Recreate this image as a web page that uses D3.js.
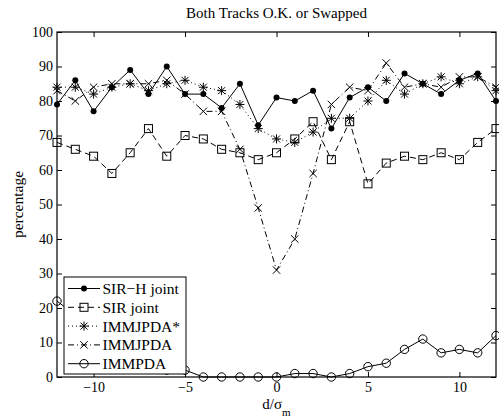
<!DOCTYPE html>
<html>
<head>
<meta charset="utf-8">
<script src="https://cdn.jsdelivr.net/npm/d3@7"></script>
<style>
  body { margin: 0; background: #fff; }
  svg, svg text { font-family: "Liberation Serif", "Times New Roman", serif; }
  .tick text { font-size: 14px; }
</style>
</head>
<body>
<div id="chart"></div>
<script>
"use strict";

// d/sigma_m positions
let xValues = d3.range(-12, 13);

let sirHJoint = [79, 86, 77, 84, 89, 82, 90, 82, 82, 78, 85, 73, 81, 80, 83, 72, 81, 84, 80, 88, 85, 82, 86, 88, 80];
let sirJoint = [68, 66, 64, 59, 65, 72, 64, 70, 69, 66, 65, 63, 65, 69, 74, 63, 74, 56, 62, 64, 63, 65, 63, 68, 72];
let immjpdaStar = [84, 84, 82, 84, 85, 83, 85, 86, 84, 83, 79, 72, 69, 68, 71, 75, 75, 80, 86, 82, 85, 87, 85, 87, 83];
let immjpda = [83, 80, 84, 85, 85, 85, 86, 82, 77, 77, 66, 49, 31, 40, 59, 79, 84, 83, 91, 84, 85, 84, 87, 87, 84];
let immpda = [22, 18, 12, 8, 5, 3, 2, 2, 0, 0, 0, 0, 0, 1, 1, 0, 1, 3, 4, 8, 11, 7, 8, 7, 12];

let xTicks = [-10, -5, 0, 5, 10];
let yTicks = [0, 10, 20, 30, 40, 50, 60, 70, 80, 90, 100];

let series = [
  { name: 'SIR\u2212H joint', values: sirHJoint, dash: null, marker: 'dot' },
  { name: 'SIR joint', values: sirJoint, dash: '6,4', marker: 'square' },
  { name: 'IMMJPDA*', values: immjpdaStar, dash: '1,3', marker: 'star' },
  { name: 'IMMJPDA', values: immjpda, dash: '6,3,1,3', marker: 'cross' },
  { name: 'IMMPDA', values: immpda, dash: null, marker: 'circle' }
];

let width = 499;
let height = 419;
let margin = { top: 32, right: 3, bottom: 42, left: 57 };
let innerW = width - margin.left - margin.right;
let innerH = height - margin.top - margin.bottom;

let svg = d3.select('#chart')
  .append('svg')
  .attr('width', width)
  .attr('height', height);

let g = svg.append('g')
  .attr('transform', 'translate(' + margin.left + ',' + margin.top + ')');

let x = d3.scaleLinear().domain([-12, 12]).range([0, innerW]);
let y = d3.scaleLinear().domain([0, 100]).range([innerH, 0]);

let fmt = d => d < 0 ? '\u2212' + Math.abs(d) : String(d);

// axes, ticks pointing inward
let styleAxis = sel => {
  sel.attr('font-family', null).attr('font-size', null);
  sel.select('.domain').remove();
  sel.selectAll('.tick line').attr('stroke', '#000');
  sel.selectAll('.tick text').attr('fill', '#000');
};

g.append('g')
  .attr('transform', 'translate(0,' + innerH + ')')
  .call(d3.axisBottom(x).tickValues(xTicks).tickFormat(fmt).tickSizeInner(-5).tickPadding(5))
  .call(styleAxis);

g.append('g')
  .call(d3.axisTop(x).tickValues(xTicks).tickFormat('').tickSizeInner(-5))
  .call(styleAxis);

g.append('g')
  .call(d3.axisLeft(y).tickValues(yTicks).tickSizeInner(-5).tickPadding(4))
  .call(styleAxis);

g.append('g')
  .attr('transform', 'translate(' + innerW + ',0)')
  .call(d3.axisRight(y).tickValues(yTicks).tickFormat('').tickSizeInner(-5))
  .call(styleAxis);

let line = d3.line()
  .x((d, i) => x(xValues[i]))
  .y(d => y(d));

let drawMarker = (sel, type) => {
  if (type === 'dot') {
    sel.append('circle').attr('r', 3).attr('fill', '#000');
  } else if (type === 'circle') {
    sel.append('circle').attr('r', 4.2).attr('fill', 'none').attr('stroke', '#000');
  } else if (type === 'square') {
    sel.append('rect').attr('x', -4).attr('y', -4).attr('width', 8).attr('height', 8)
      .attr('fill', 'none').attr('stroke', '#000');
  } else if (type === 'cross') {
    sel.append('path').attr('d', 'M-3.7,-3.7L3.7,3.7M-3.7,3.7L3.7,-3.7').attr('stroke', '#000');
  } else if (type === 'star') {
    sel.append('path')
      .attr('d', 'M-3.5,-3.5L3.5,3.5M-3.5,3.5L3.5,-3.5M0,-4.5L0,4.5M-4.5,0L4.5,0')
      .attr('stroke', '#000');
  }
};

let plot = g.append('g');

series.forEach(s => {
  plot.append('path')
    .datum(s.values)
    .attr('fill', 'none')
    .attr('stroke', '#000')
    .attr('stroke-width', 1)
    .attr('stroke-dasharray', s.dash)
    .attr('d', line);

  plot.selectAll(null)
    .data(s.values)
    .enter()
    .append('g')
    .attr('transform', (d, i) => 'translate(' + x(xValues[i]) + ',' + y(d) + ')')
    .each(function () { drawMarker(d3.select(this), s.marker); });
});

// frame
g.append('rect')
  .attr('width', innerW)
  .attr('height', innerH)
  .attr('fill', 'none')
  .attr('stroke', '#000')
  .attr('stroke-width', 1.2);

// legend
let legend = g.append('g')
  .attr('transform', 'translate(' + (64 - margin.left) + ',' + (277 - margin.top) + ')');

legend.append('rect')
  .attr('width', 122)
  .attr('height', 97)
  .attr('fill', '#fff')
  .attr('stroke', '#000');

series.forEach((s, i) => {
  let row = legend.append('g')
    .attr('transform', 'translate(0,' + (11.5 + i * 18.8) + ')');
  row.append('line')
    .attr('x1', 4).attr('x2', 36)
    .attr('stroke', '#000')
    .attr('stroke-dasharray', s.dash);
  let m = row.append('g').attr('transform', 'translate(20,0)');
  drawMarker(m, s.marker);
  row.append('text')
    .attr('x', 38.5)
    .attr('dy', '0.35em')
    .attr('font-size', 15.5)
    .text(s.name);
});

// title and axis labels
svg.append('text')
  .attr('x', margin.left + innerW / 2)
  .attr('y', 18)
  .attr('text-anchor', 'middle')
  .attr('font-size', 15)
  .text('Both Tracks O.K. or Swapped');

svg.append('text')
  .attr('transform', 'translate(23,' + (margin.top + innerH / 2) + ') rotate(-90)')
  .attr('text-anchor', 'middle')
  .attr('font-size', 15.5)
  .text('percentage');

let xl = svg.append('text')
  .attr('x', margin.left + innerW / 2)
  .attr('y', 409)
  .attr('text-anchor', 'middle')
  .attr('font-size', 15);
xl.append('tspan').text('d/\u03c3');
xl.append('tspan').attr('dy', 7).attr('font-size', 11).text('m');
</script>
</body>
</html>
